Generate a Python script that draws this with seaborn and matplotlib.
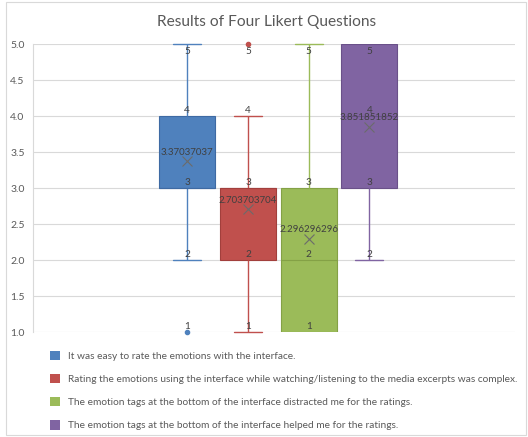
import numpy as np
import pandas as pd
import matplotlib.pyplot as plt
import seaborn as sns
from matplotlib.patches import Patch, Rectangle

# Likert answers (27 participants), counts of answers 1..5 per question
levels = [1, 2, 3, 4, 5]
questions = [
    "It was easy to rate the emotions with the interface.",
    "Rating the emotions using the interface while watching/listening to the media excerpts was complex.",
    "The emotion tags at the bottom of the interface distracted me for the ratings.",
    "The emotion tags at the bottom of the interface helped me for the ratings.",
]
counts_q1 = [1, 3, 11, 9, 3]
counts_q2 = [2, 9, 12, 3, 1]
counts_q3 = [9, 7, 6, 4, 1]
counts_q4 = [0, 4, 4, 11, 8]
colors = ["#4F81BD", "#C0504D", "#9BBB59", "#8064A2"]
edges = ["#3E6AA3", "#A23F3C", "#84A146", "#6A5189"]

rows = []
for q, cnt in zip(questions, [counts_q1, counts_q2, counts_q3, counts_q4]):
    for v in np.repeat(levels, cnt):
        rows.append({"question": q, "rating": v})
df = pd.DataFrame(rows)

sns.set_style("white")
plt.rcParams["font.family"] = ["Lato", "DejaVu Sans"]
txt = "#595959"

fig = plt.figure(figsize=(5.28, 4.37), dpi=100)
ax = fig.add_axes([0.0625, 0.240, 0.912, 0.659])

sns.boxplot(data=df, y="rating", hue="question", hue_order=questions,
            palette=colors, width=0.8, gap=0.08, whis=1.5, legend=False,
            showmeans=True,
            meanprops=dict(marker="x", markeredgecolor="#6b6b6b", markersize=7, markeredgewidth=0.8),
            flierprops=dict(marker="o", markersize=3), ax=ax)

for cont, c, e in zip(ax.containers, colors, edges):
    for b in cont.boxes:
        b.set_facecolor(c)
        b.set_edgecolor(e)
        b.set_linewidth(0.8)
    for w, cap in zip(cont.whiskers, cont.caps):
        for l in (w, cap):
            l.set_color(c)
            l.set_linewidth(1.0)
            l.set_clip_on(False)
        yd = w.get_ydata()
        if yd[0] == yd[1]:
            # no whisker when min/max equals the quartile
            w.set_visible(False)
            cap.set_visible(False)
    for l in cont.medians:
        l.set_color(e)
        l.set_linewidth(0.8)
    for l in cont.fliers:
        l.set_markerfacecolor(c)
        l.set_markeredgecolor(c)
        l.set_clip_on(False)

# data labels like Excel: whisker ends, quartiles, median, outliers, mean
xs = [-0.3, -0.1, 0.1, 0.3]
for q, x in zip(questions, xs):
    d = df.loc[df.question == q, "rating"].values
    q1, med, q3 = np.percentile(d, [25, 50, 75])
    iqr = q3 - q1
    inside = d[(d >= q1 - 1.5 * iqr) & (d <= q3 + 1.5 * iqr)]
    vals = set([q1, med, q3, inside.min(), inside.max()]) | set(d[(d < q1 - 1.5 * iqr) | (d > q3 + 1.5 * iqr)])
    for v in sorted(vals):
        if v >= 5:
            ax.annotate(f"{v:g}", (x, v), xytext=(0, -2), textcoords="offset points",
                        ha="center", va="top", fontsize=7.2, color="#404040")
        else:
            ax.annotate(f"{v:g}", (x, v), xytext=(0, 1), textcoords="offset points",
                        ha="center", va="bottom", fontsize=7.2, color="#404040")
    m = d.mean()
    ax.annotate(f"{m:.10g}", (x, m), xytext=(0, 3.5), textcoords="offset points",
                ha="center", va="bottom", fontsize=7, color="#404040")

ax.set_xlim(-0.808, 0.778)
ax.set_ylim(1, 5)
ax.set_yticks(np.arange(1, 5.01, 0.5))
ax.set_yticklabels([f"{t:.1f}" for t in np.arange(1, 5.01, 0.5)], fontsize=7.5, color=txt)
ax.tick_params(axis="y", length=0, pad=6)
ax.set_xticks([])
ax.set_xlabel("")
ax.set_ylabel("")
ax.grid(axis="y", color="#D9D9D9", linewidth=0.8)
ax.set_axisbelow(True)
for s in ["top", "right", "bottom"]:
    ax.spines[s].set_visible(False)
ax.spines["left"].set_color("#D9D9D9")
ax.spines["left"].set_linewidth(0.8)

fig.suptitle("Results of Four Likert Questions", x=0.505, y=0.965, fontsize=11.2, color=txt)

handles = [Patch(facecolor=c, edgecolor="none") for c in colors]
fig.legend(handles, questions, loc="upper left", bbox_to_anchor=(0.078, 0.218),
           frameon=False, fontsize=7.3, handlelength=1.0, handleheight=1.0,
           handletextpad=0.7, labelspacing=1.3, labelcolor=txt)

fig.patches.append(Rectangle((0.012, 0.005), 0.985, 0.99, transform=fig.transFigure,
                             fill=False, edgecolor="#D9D9D9", linewidth=0.8))

fig.savefig("out.png", dpi=100)
